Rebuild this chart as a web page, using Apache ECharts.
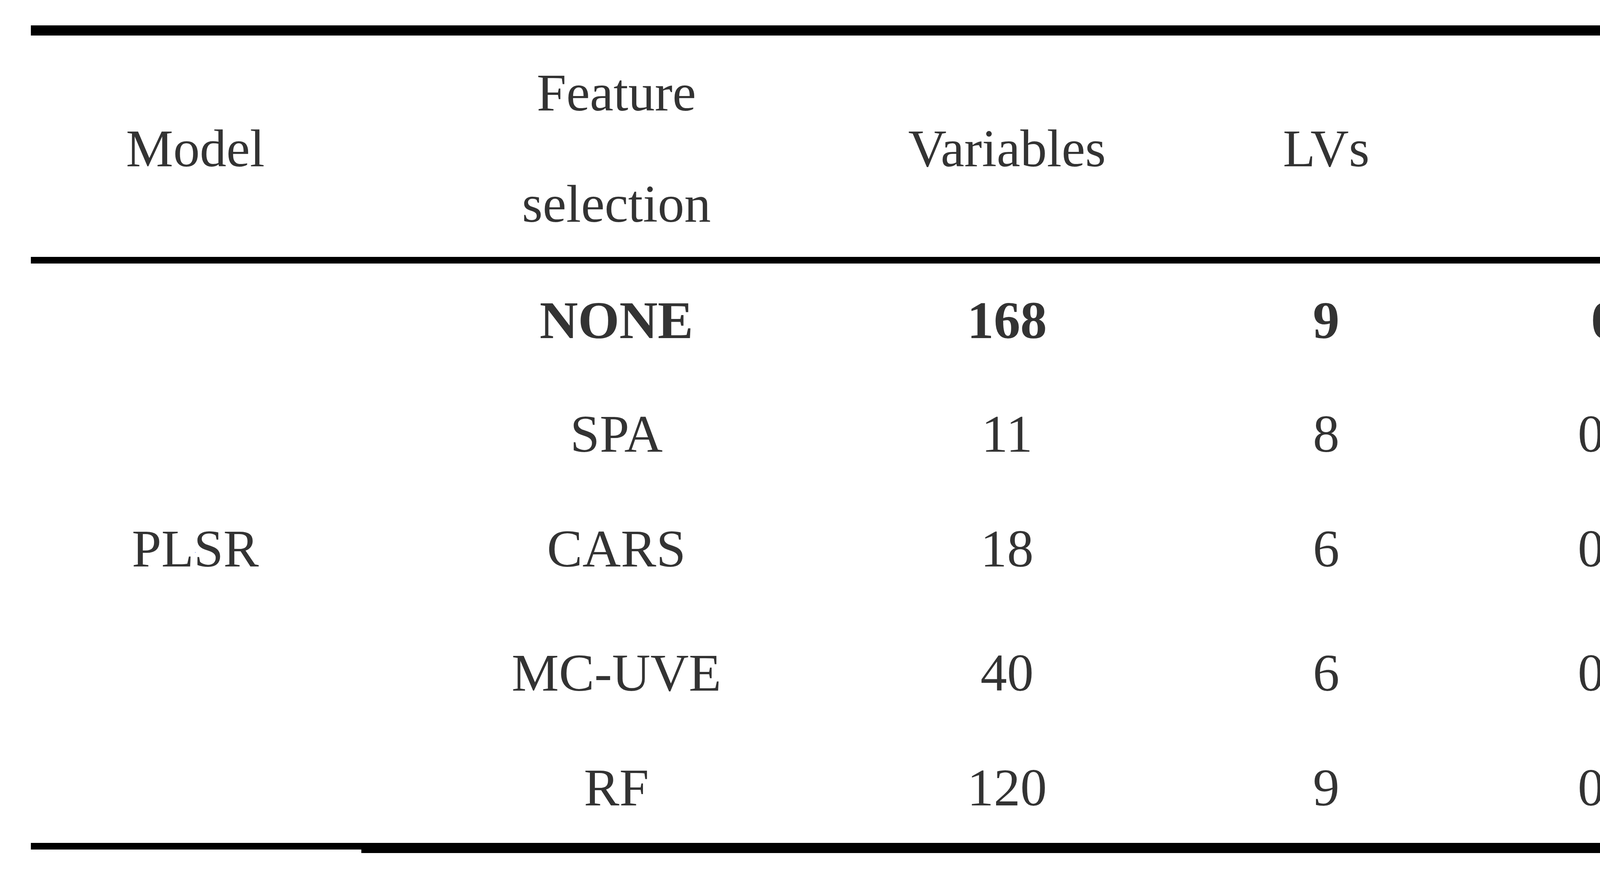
<!DOCTYPE html>
<html><head><meta charset="utf-8">
<script src="https://cdn.jsdelivr.net/npm/echarts@6/dist/echarts.min.js"></script>
<style>html,body{margin:0;background:#fff}#c{width:7322px;height:2231px}</style>
</head><body><div id="c"></div>
<script>
const headers = ['Model','Feature\nselection','Variables','LVs','{i|R}{sup|2}{sub|c}','RMSEC/%','{i|R}{sup|2}{sub|p}','RMSEP/%'];
const featureSel = ['NONE','SPA','CARS','MC-UVE','RF'];
const variables = ['168','11','18','40','120'];
const lvs = ['9','8','6','6','9'];
const r2c = ['0.916','0.8381','0.8283','0.8780','0.9060'];
const rmsec = ['0.4093','0.5683','0.5853','0.4933','0.4329'];
const r2p = ['0.8632','0.7702','0.5839','0.8159','0.8346'];
const rmsep = ['0.5370','0.6961','0.9365','0.623','0.5905'];
const modelName = 'PLSR';

const colX = [500,1578,2578,3395,4226,5076,5903,6794];
const headerY = 390;
const rowY = [831,1121,1415,1733,2027];
const FS = 136, FF = '"Liberation Serif","DejaVu Serif",serif';

const rich = {
  i:{fontStyle:'italic',fontSize:FS,fontFamily:FF,color:'#000'},
  sup:{fontSize:FS*0.68,fontFamily:FF,verticalAlign:'top',padding:[0,0,55,0],color:'#000'},
  sub:{fontSize:FS*0.68,fontFamily:FF,fontStyle:'italic',padding:[45,0,0,0],color:'#000'}
};
const pts = [];
headers.forEach((h,i)=>pts.push({value:[colX[i],headerY],label:{formatter:h,lineHeight:285}}));
const cols = [featureSel,variables,lvs,r2c,rmsec,r2p,rmsep];
cols.forEach((arr,ci)=>arr.forEach((v,ri)=>pts.push({value:[colX[ci+1],rowY[ri]],
  label:{formatter:v,fontWeight: ri===0?'bold':'normal'}})));
pts.push({value:[colX[0],rowY[2]],label:{formatter:modelName}});

function seg(x1,x2,y,w){return [{coord:[x1,y],lineStyle:{width:w,color:'#000',type:'solid'}},{coord:[x2,y]}];}
const chart = echarts.init(document.getElementById('c'));
chart.setOption({
  animation:false,
  grid:{left:0,right:0,top:0,bottom:0},
  xAxis:{type:'value',min:0,max:7322,show:false},
  yAxis:{type:'value',min:0,max:2231,inverse:true,show:false},
  series:[{type:'scatter',symbolSize:0,data:pts,
    label:{show:true,position:'inside',color:'#000',fontSize:FS,fontFamily:FF,rich:rich},
    markLine:{symbol:'none',silent:true,label:{show:false},
      data:[seg(79,7191,78,26),seg(79,7191,666,17),seg(79,925,2167,17),seg(925,7191,2172,26)]}
  }]
});
</script></body></html>
